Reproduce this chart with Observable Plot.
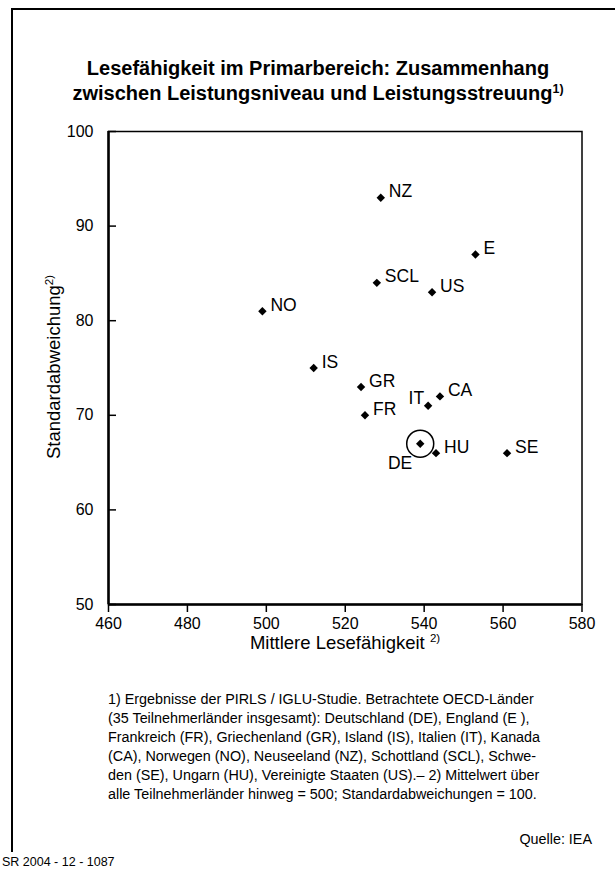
<!DOCTYPE html>
<html>
<head>
<meta charset="utf-8">
<script src="https://cdn.jsdelivr.net/npm/d3@7"></script>
<script src="https://cdn.jsdelivr.net/npm/@observablehq/plot@0.6"></script>
<style>
  html, body { margin: 0; padding: 0; background: #fff; }
  #page { position: relative; width: 615px; height: 874px; overflow: hidden; font-family: "Liberation Sans", Arial, Helvetica, sans-serif; color: #000; }
  #page > div { position: absolute; }
  #frame { left: 11px; top: 8px; width: 700px; height: 842px; border-left: 2px solid #000; border-top: 2px solid #000; }
  #title { left: 12px; width: 612px; top: 56px; text-align: center; font-weight: bold; font-size: 20px; line-height: 25px; }
  .sup { font-size: 0.62em; vertical-align: 0.6em; line-height: 0; }
  #xlabel { left: 108px; width: 474px; top: 632px; text-align: center; font-size: 18.5px; line-height: 22px; }
  #ylabel { left: -96px; width: 300px; top: 356px; height: 22px; text-align: center; font-size: 18.5px; line-height: 22px; transform: rotate(-90deg); transform-origin: 150px 11px; }
  #note { left: 108px; top: 690px; font-size: 14.35px; line-height: 18.9px; white-space: nowrap; }
  #source { right: 23px; top: 830px; font-size: 14.35px; line-height: 19px; }
  #code { left: 2px; top: 854px; font-size: 12.5px; line-height: 16px; }
  #chart { left: 0; top: 0; }
</style>
</head>
<body>
<div id="page">
  <div id="frame"></div>
  <div id="chart"></div>
  <div id="title">Lesefähigkeit im Primarbereich: Zusammenhang<br>zwischen Leistungsniveau und Leistungsstreuung<span class="sup">1)</span></div>
  <div id="xlabel">Mittlere Lesefähigkeit <span class="sup">2)</span></div>
  <div id="ylabel">Standardabweichung<span class="sup">2)</span></div>
  <div id="note">1) Ergebnisse der PIRLS / IGLU-Studie. Betrachtete OECD-Länder<br>(35 Teilnehmerländer insgesamt): Deutschland (DE), England (E ),<br>Frankreich (FR), Griechenland (GR), Island (IS), Italien (IT), Kanada<br>(CA), Norwegen (NO), Neuseeland (NZ), Schottland (SCL), Schwe-<br>den (SE), Ungarn (HU), Vereinigte Staaten (US).– 2) Mittelwert über<br>alle Teilnehmerländer hinweg = 500; Standardabweichungen = 100.</div>
  <div id="source">Quelle: IEA</div>
  <div id="code">SR 2004 - 12 - 1087</div>
</div>
<script>
// Data
const codes   = ["NZ", "E", "SCL", "US", "NO", "IS", "GR", "IT", "CA", "FR", "DE", "HU", "SE"];
const reading = [529, 553, 528, 542, 499, 512, 524, 541, 544, 525, 539, 543, 561];
const spread  = [93, 87, 84, 83, 81, 75, 73, 71, 72, 70, 67, 66, 66];
const xTicks = [460, 480, 500, 520, 540, 560, 580];
const yTicks = [50, 60, 70, 80, 90, 100];
const highlighted = ["DE"];
const labelLeftAbove = ["IT"];
const labelLeftBelow = ["DE"];

const data = codes.map((c, i) => ({code: c, x: reading[i], y: spread[i]}));
const normal = data.filter(d => !labelLeftAbove.includes(d.code) && !labelLeftBelow.includes(d.code));
const leftAbove = data.filter(d => labelLeftAbove.includes(d.code));
const leftBelow = data.filter(d => labelLeftBelow.includes(d.code));
const circled = data.filter(d => highlighted.includes(d.code));

const chart = Plot.plot({
  width: 615,
  height: 660,
  marginLeft: 108,
  marginRight: 33.5,
  marginTop: 131,
  marginBottom: 56,
  style: {fontFamily: "'Liberation Sans', Arial, sans-serif", fontSize: "16px", color: "#000", background: "transparent", overflow: "visible"},
  x: {domain: [460, 580]},
  y: {domain: [50, 100]},
  marks: [
    Plot.frame({stroke: "#000", strokeWidth: 1.5}),
    Plot.axisX({ticks: xTicks, tickSize: 8, tickPadding: 5, label: null, strokeWidth: 1.5, fill: "#000"}),
    Plot.axisY({ticks: yTicks, tickSize: 0, tickPadding: 15, label: null, fill: "#000"}),
    Plot.axisY({ticks: yTicks, tickSize: 8, dx: 8, tickFormat: () => "", label: null, strokeWidth: 1.5}),
    Plot.ruleX([460], {stroke: "#000", strokeWidth: 2.5}),
    Plot.ruleY([50], {stroke: "#000", strokeWidth: 2.5}),
    Plot.dot(data, {x: "x", y: "y", symbol: "diamond2", r: 3.8, fill: "#000"}),
    Plot.dot(circled, {x: "x", y: "y", r: 13.5, fill: "none", stroke: "#000", strokeWidth: 1.5}),
    Plot.text(normal, {x: "x", y: "y", text: "code", textAnchor: "start", dx: 8, dy: -6, fontSize: 17.5, fill: "#000"}),
    Plot.text(leftAbove, {x: "x", y: "y", text: "code", textAnchor: "end", dx: -4, dy: -7, fontSize: 17.5, fill: "#000"}),
    Plot.text(leftBelow, {x: "x", y: "y", text: "code", textAnchor: "end", dx: -8, dy: 20, fontSize: 17.5, fill: "#000"})
  ]
});
document.getElementById("chart").appendChild(chart);
</script>
</body>
</html>
